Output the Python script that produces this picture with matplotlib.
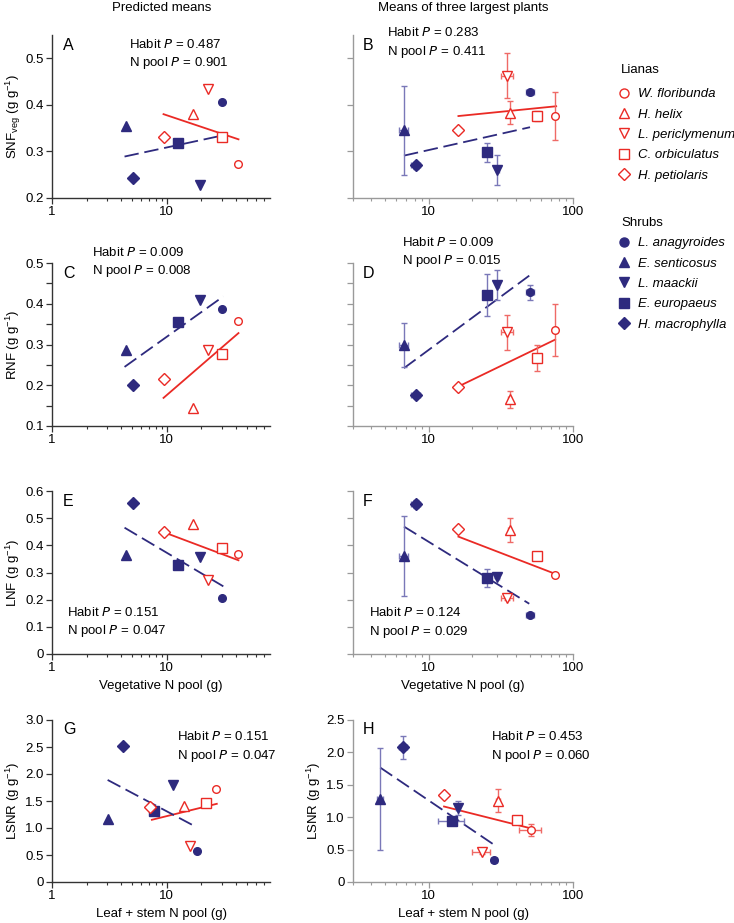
import numpy as np
import matplotlib
matplotlib.use('Agg')
import matplotlib.pyplot as plt
from matplotlib.lines import Line2D
from matplotlib.ticker import FixedLocator, LogLocator, NullFormatter, FuncFormatter

plt.rcParams['font.family'] = ['Liberation Sans', 'DejaVu Sans']
plt.rcParams['font.size'] = 9.5

RED = '#ea2a25'
NAVY = '#2e2a7e'
RED_ERR = '#ef6a66'
NAVY_ERR = '#7a78b8'

liana_names = ['W. floribunda', 'H. helix', 'L. periclymenum', 'C. orbiculatus', 'H. petiolaris']
shrub_names = ['L. anagyroides', 'E. senticosus', 'L. maackii', 'E. europaeus', 'H. macrophylla']
markers = ['o', '^', 'v', 's', 'D']

# predicted means (left column)
pred_vegN_liana = [41.4, 16.8, 22.6, 30.1, 9.5]
pred_vegN_shrub = [30.1, 4.37, 19.5, 12.4, 5.03]
snf_pred_liana = [0.274, 0.381, 0.434, 0.331, 0.332]
snf_pred_shrub = [0.406, 0.354, 0.228, 0.318, 0.243]
rnf_pred_liana = [0.357, 0.144, 0.287, 0.277, 0.216]
rnf_pred_shrub = [0.387, 0.287, 0.408, 0.354, 0.200]
lnf_pred_liana = [0.367, 0.479, 0.273, 0.391, 0.449]
lnf_pred_shrub = [0.207, 0.364, 0.356, 0.327, 0.555]
pred_lsN_liana = [26.9, 14.2, 16.0, 21.8, 7.1]
pred_lsN_shrub = [18.2, 3.09, 11.3, 7.76, 4.11]
lsnr_pred_liana = [1.73, 1.40, 0.66, 1.47, 1.386]
lsnr_pred_shrub = [0.573, 1.17, 1.80, 1.306, 2.51]

# means of three largest plants (right column)
obs_vegN_liana = [75.3, 36.5, 35.0, 56.6, 16.1]
obs_vegN_liana_err = [2.5, 1.0, 3.4, 1.5, 0]
obs_vegN_shrub = [50.4, 6.76, 30.0, 25.5, 8.16]
obs_vegN_shrub_err = [3.3, 0.5, 0.5, 0.5, 0.55]
snf_obs_liana = [0.376, 0.383, 0.463, 0.376, 0.345]
snf_obs_liana_err = [0.052, 0.025, 0.048, 0.01, 0]
snf_obs_shrub = [0.427, 0.345, 0.26, 0.298, 0.27]
snf_obs_shrub_err = [0.005, 0.096, 0.033, 0.02, 0.007]
rnf_obs_liana = [0.336, 0.166, 0.330, 0.267, 0.196]
rnf_obs_liana_err = [0.063, 0.021, 0.043, 0.031, 0]
rnf_obs_shrub = [0.428, 0.298, 0.447, 0.422, 0.175]
rnf_obs_shrub_err = [0.019, 0.054, 0.037, 0.052, 0.005]
lnf_obs_liana = [0.290, 0.457, 0.205, 0.359, 0.46]
lnf_obs_liana_err = [0.008, 0.044, 0.008, 0.01, 0]
lnf_obs_shrub = [0.145, 0.361, 0.285, 0.279, 0.552]
lnf_obs_shrub_err = [0.005, 0.148, 0.005, 0.033, 0.015]
obs_lsN_liana = [51.0, 30.3, 23.3, 40.9, 12.8]
obs_lsN_liana_err = [9.0, 1.0, 3.4, 1.0, 0]
obs_lsN_shrub = [28.4, 4.63, 16.1, 14.6, 6.67]
obs_lsN_shrub_err = [1.5, 0.2, 0.5, 2.9, 0.45]
lsnr_obs_liana = [0.806, 1.253, 0.462, 0.95, 1.345]
lsnr_obs_liana_err = [0.095, 0.18, 0.03, 0.03, 0]
lsnr_obs_shrub = [0.344, 1.278, 1.14, 0.945, 2.079]
lsnr_obs_shrub_err = [0.02, 0.79, 0.103, 0.03, 0.18]

# fitted lines: (x0, x1), (y0, y1)
fits = {
    'A': (([9.35, 42], [0.380, 0.326]), ([4.28, 30.1], [0.289, 0.334])),
    'B': (([16.1, 76.5], [0.376, 0.397]), ([6.76, 50.4], [0.291, 0.352])),
    'C': (([9.35, 42], [0.169, 0.328]), ([4.28, 31], [0.245, 0.418])),
    'D': (([16.1, 75.3], [0.197, 0.312]), ([6.76, 49.8], [0.242, 0.469])),
    'E': (([10.3, 42], [0.442, 0.345]), ([4.28, 31], [0.465, 0.249])),
    'F': (([16.1, 75.3], [0.432, 0.295]), ([6.76, 49.8], [0.469, 0.185])),
    'G': (([7.4, 27.2], [1.152, 1.448]), ([3.05, 17.6], [1.89, 1.03])),
    'H': (([12.8, 50.2], [1.165, 0.832]), ([4.63, 28.4], [1.766, 0.575])),
}

stats = {
    'A': ('0.487', '0.901'), 'B': ('0.283', '0.411'),
    'C': ('0.009', '0.008'), 'D': ('0.009', '0.015'),
    'E': ('0.151', '0.047'), 'F': ('0.124', '0.029'),
    'G': ('0.151', '0.047'), 'H': ('0.453', '0.060'),
}

W, H = 734, 923
fig = plt.figure(figsize=(W / 100, H / 100), dpi=100)


def px_axes(x0, x1, ytop, ybot):
    return fig.add_axes([x0 / W, 1 - ybot / H, (x1 - x0) / W, (ybot - ytop) / H])


rows = [(35, 198), (263, 426), (491, 654), (720, 882)]
ylims = [(0.2, 0.55), (0.1, 0.5), (0, 0.6), (0, 3.0)]
ylims_r = [(0.2, 0.55), (0.1, 0.5), (0, 0.6), (0, 2.5)]
ystep = [0.1, 0.1, 0.1, 0.5]
yminor = [None, 0.05, None, None]
ylabels = ['SNF$_{\\mathregular{veg}}$ (g g$^{\\mathregular{-1}}$)',
           'RNF (g g$^{\\mathregular{-1}}$)',
           'LNF (g g$^{\\mathregular{-1}}$)',
           'LSNR (g g$^{\\mathregular{-1}}$)']

yfmt = FuncFormatter(lambda v, p: '0' if abs(v) < 1e-9 else f'{v:.1f}')


def style(ax, xlim, ylim, step, minor, left_col, show_ylab):
    spc = '#333333' if left_col else '#9a9a9a'
    ax.set_xscale('log')
    ax.set_xlim(*xlim)
    ax.set_ylim(*ylim)
    for s in ['top', 'right']:
        ax.spines[s].set_visible(False)
    for s in ['left', 'bottom']:
        ax.spines[s].set_color(spc)
        ax.spines[s].set_linewidth(1.0)
    ax.yaxis.set_major_locator(FixedLocator(np.arange(ylim[0], ylim[1] + 1e-9, step)))
    if minor:
        ax.yaxis.set_minor_locator(FixedLocator(np.arange(ylim[0], ylim[1] + 1e-9, minor)))
    else:
        ax.yaxis.set_minor_locator(FixedLocator([]))
    ax.yaxis.set_major_formatter(yfmt if show_ylab else NullFormatter())
    ax.xaxis.set_major_locator(LogLocator(base=10, numticks=5))
    ax.xaxis.set_minor_locator(LogLocator(base=10, subs=np.arange(2, 10), numticks=20))
    ax.xaxis.set_minor_formatter(NullFormatter())
    ax.xaxis.set_major_formatter(FuncFormatter(lambda v, p: f'{v:g}'))
    ax.tick_params(axis='both', which='major', direction='out', length=4, width=0.9,
                   color=spc, labelsize=9.5, pad=2)
    ax.tick_params(axis='y', which='minor', direction='out', length=4, width=0.9, color=spc)
    ax.tick_params(axis='x', which='minor', direction='out', length=2.5, width=0.8, color=spc)
    ax.patch.set_alpha(0)


def draw_fit(ax, key):
    (lx, ly), (sx, sy) = fits[key]
    ax.plot(lx, ly, '-', color=RED, lw=1.3, zorder=2)
    ax.plot(sx, sy, color=NAVY, lw=1.3, dashes=(8, 3.2), zorder=2)


def draw_pts(ax, xl, yl, xs, ys, xle=None, yle=None, xse=None, yse=None):
    for i, m in enumerate(markers):
        ms = 7 if m in '^v' else 6.5 if m == 's' else 6 if m == 'D' else 5.5
        if yle is not None:
            ax.errorbar(xl[i], yl[i], xerr=xle[i] or None, yerr=yle[i] or None, fmt='none',
                        ecolor=RED_ERR, elinewidth=1.0, capsize=2.5, capthick=1.0, zorder=3)
            ax.errorbar(xs[i], ys[i], xerr=xse[i] or None, yerr=yse[i] or None, fmt='none',
                        ecolor=NAVY_ERR, elinewidth=1.0, capsize=2.5, capthick=1.0, zorder=3)
        ax.plot(xl[i], yl[i], marker=m, ms=ms, mfc='white', mec=RED, mew=1.0,
                ls='none', zorder=4)
        ax.plot(xs[i], ys[i], marker=m, ms=ms, mfc=NAVY, mec=NAVY, mew=1.0,
                ls='none', zorder=4)


left_data = [
    (pred_vegN_liana, snf_pred_liana, pred_vegN_shrub, snf_pred_shrub),
    (pred_vegN_liana, rnf_pred_liana, pred_vegN_shrub, rnf_pred_shrub),
    (pred_vegN_liana, lnf_pred_liana, pred_vegN_shrub, lnf_pred_shrub),
    (pred_lsN_liana, lsnr_pred_liana, pred_lsN_shrub, lsnr_pred_shrub),
]
right_data = [
    (obs_vegN_liana, snf_obs_liana, obs_vegN_shrub, snf_obs_shrub,
     obs_vegN_liana_err, snf_obs_liana_err, obs_vegN_shrub_err, snf_obs_shrub_err),
    (obs_vegN_liana, rnf_obs_liana, obs_vegN_shrub, rnf_obs_shrub,
     obs_vegN_liana_err, rnf_obs_liana_err, obs_vegN_shrub_err, rnf_obs_shrub_err),
    (obs_vegN_liana, lnf_obs_liana, obs_vegN_shrub, lnf_obs_shrub,
     obs_vegN_liana_err, lnf_obs_liana_err, obs_vegN_shrub_err, lnf_obs_shrub_err),
    (obs_lsN_liana, lsnr_obs_liana, obs_lsN_shrub, lsnr_obs_shrub,
     obs_lsN_liana_err, lsnr_obs_liana_err, obs_lsN_shrub_err, lsnr_obs_shrub_err),
]

letters_l = ['A', 'C', 'E', 'G']
letters_r = ['B', 'D', 'F', 'H']
# stat text anchor (px x, px y of first line)
stat_pos = {'A': (129, 44), 'B': (387, 33), 'C': (92, 252), 'D': (402, 242),
            'E': (67, 612), 'F': (369, 613), 'G': (177, 737), 'H': (491, 737)}

for r, (yt, yb) in enumerate(rows):
    axl = px_axes(52, 270, yt, yb)
    style(axl, (1, 79), ylims[r], ystep[r], yminor[r], True, True)
    axl.set_ylabel(ylabels[r], labelpad=2)
    draw_fit(axl, letters_l[r])
    draw_pts(axl, *left_data[r])

    axr = px_axes(353, 573, yt, yb)
    style(axr, (3, 100), ylims_r[r], ystep[r], yminor[r], False, r == 3)
    if r == 3:
        axr.set_ylabel(ylabels[r], labelpad=2)
    draw_fit(axr, letters_r[r])
    draw_pts(axr, *right_data[r])

    for lt, x0 in ((letters_l[r], 63), (letters_r[r], 363)):
        fig.text(x0 / W, 1 - (yt + 10) / H, lt, fontsize=11.5, ha='left', va='center')

    if r == 2:
        axl.set_xlabel('Vegetative N pool (g)', labelpad=4)
        axr.set_xlabel('Vegetative N pool (g)', labelpad=4)
    if r == 3:
        axl.set_xlabel('Leaf + stem N pool (g)', labelpad=4)
        axr.set_xlabel('Leaf + stem N pool (g)', labelpad=4)

for k, (sx, sy) in stat_pos.items():
    hp, np_ = stats[k]
    fig.text(sx / W, 1 - sy / H, f'Habit $P$ = {hp}', ha='left', va='center')
    fig.text(sx / W, 1 - (sy + 19) / H, f'N pool $P$ = {np_}', ha='left', va='center')

fig.text(162 / W, 1 - 8 / H, 'Predicted means', ha='center', va='center')
fig.text(463 / W, 1 - 8 / H, 'Means of three largest plants', ha='center', va='center')

# legends
liana_handles = [Line2D([], [], marker=m, ls='none', ms=7 if m in '^v' else 6.5,
                        mfc='white', mec=RED, mew=1.0) for m in markers]
shrub_handles = [Line2D([], [], marker=m, ls='none', ms=7 if m in '^v' else 6.5,
                        mfc=NAVY, mec=NAVY, mew=1.0) for m in markers]
fig.text(621 / W, 1 - 70 / H, 'Lianas', ha='left', va='center')
fig.text(621 / W, 1 - 223 / H, 'Shrubs', ha='left', va='center')
for handles, names, ytop in ((liana_handles, liana_names, 88),
                             (shrub_handles, shrub_names, 237)):
    fig.legend(handles, names, loc='upper left',
               bbox_to_anchor=(617 / W, 1 - ytop / H), frameon=False,
               handlelength=1.0, handletextpad=0.6, labelspacing=0.62,
               borderpad=0, borderaxespad=0,
               prop={'style': 'italic', 'size': 9.5})

fig.savefig('out.png', dpi=100)
